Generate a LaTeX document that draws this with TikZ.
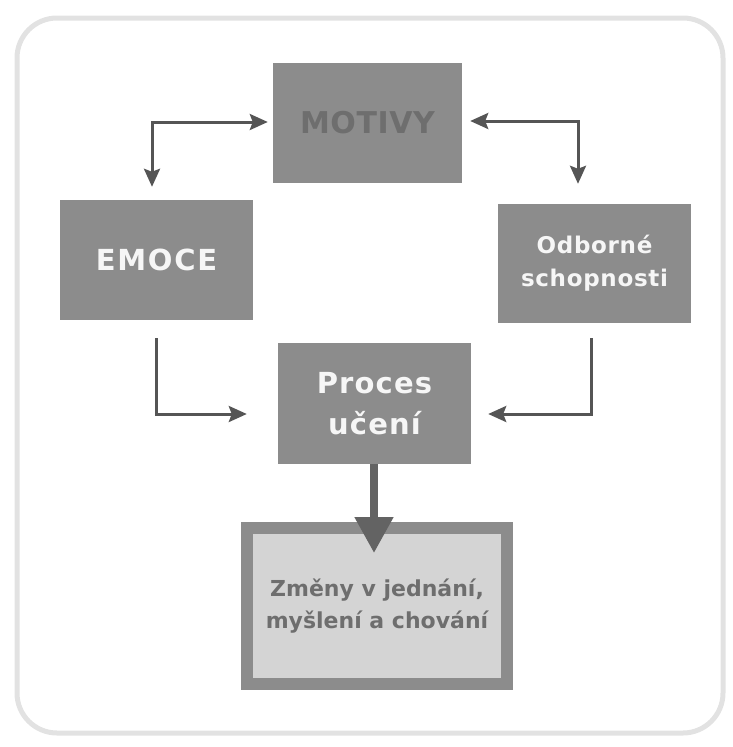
\documentclass[tikz,border=0pt]{standalone}
\usepackage{fontspec}
\setmainfont{DejaVu Sans}
\usetikzlibrary{arrows.meta}
\definecolor{boxgray}{HTML}{8C8C8C}
\definecolor{arrgray}{HTML}{555555}
\definecolor{txtdark}{HTML}{6E6E6E}
\definecolor{lightfill}{HTML}{D4D4D4}
\definecolor{framegray}{HTML}{E2E2E2}
\definecolor{whitetxt}{HTML}{F6F6F6}
\tikzset{
  graybox/.style={rectangle, fill=boxgray, inner sep=0pt, align=center, font=\bfseries},
  arr/.style={draw=arrgray, line width=3pt, line join=miter,
    arrows={-Stealth[length=18pt,width=16pt,inset=3pt]}},
  biarr/.style={draw=arrgray, line width=3pt, line join=miter,
    arrows={Stealth[length=18pt,width=16pt,inset=3pt]-Stealth[length=18pt,width=16pt,inset=3pt]}},
  bigarr/.style={draw=txtdark!90!black, line width=8pt,
    arrows={-Triangle[length=36pt,width=37pt]}}
}
\begin{document}
\begin{tikzpicture}[x=1pt,y=-1pt]
\useasboundingbox (0,0) rectangle (733,747);
\draw[framegray, line width=5pt, rounded corners=40pt] (17,18) rectangle (723,733);

\node[graybox, minimum width=189pt, minimum height=120pt, text=txtdark,
  font=\addfontfeature{LetterSpace=2}\fontsize{30}{32}\selectfont\bfseries] (motivy) at (367.5,123) {MOTIVY};
\node[graybox, minimum width=193pt, minimum height=120pt, text=whitetxt,
  font=\addfontfeature{LetterSpace=6}\fontsize{29}{30}\selectfont\bfseries] (emoce) at (156.5,260) {EMOCE};
\node[graybox, minimum width=193pt, minimum height=119pt, text=whitetxt,
  font=\addfontfeature{LetterSpace=3}\fontsize{23}{33}\selectfont\bfseries] (odb) at (594.5,263.5) {Odborné\\schopnosti};
\node[graybox, minimum width=193pt, minimum height=121pt, text=whitetxt,
  font=\addfontfeature{LetterSpace=4}\fontsize{29}{41}\selectfont\bfseries] (proces) at (374.5,403.5) {Proces\\učení};
\node[rectangle, fill=lightfill, draw=boxgray, line width=12pt, inner sep=0pt,
  minimum width=260pt, minimum height=156pt, align=center, text=txtdark,
  font=\fontsize{22}{32}\selectfont\bfseries] (zmeny) at (377,606) {\raisebox{-9pt}{\parbox{250pt}{\centering Změny v jednání,\\myšlení a chování}}};

\coordinate (c1) at (152,122);
\coordinate (c2) at (578,121);
\coordinate (c3) at (156,414);
\coordinate (c4) at (591,414);

\draw[biarr, shorten <=13pt, shorten >=5pt] (emoce.north -| c1) -- (c1) -- (motivy.west |- c1);
\draw[biarr, shorten <=20pt, shorten >=8pt] (odb.north -| c2) -- (c2) -- (motivy.east |- c2);
\draw[arr, shorten <=18pt, shorten >=31pt] (emoce.south -| c3) -- (c3) -- (proces.west |- c3);
\draw[arr, shorten <=15pt, shorten >=17pt] (odb.south -| c4) -- (c4) -- (proces.east |- c4);
\coordinate (tip) at (374,553);
\draw[bigarr] (proces.south -| tip) -- (tip);
\end{tikzpicture}
\end{document}
